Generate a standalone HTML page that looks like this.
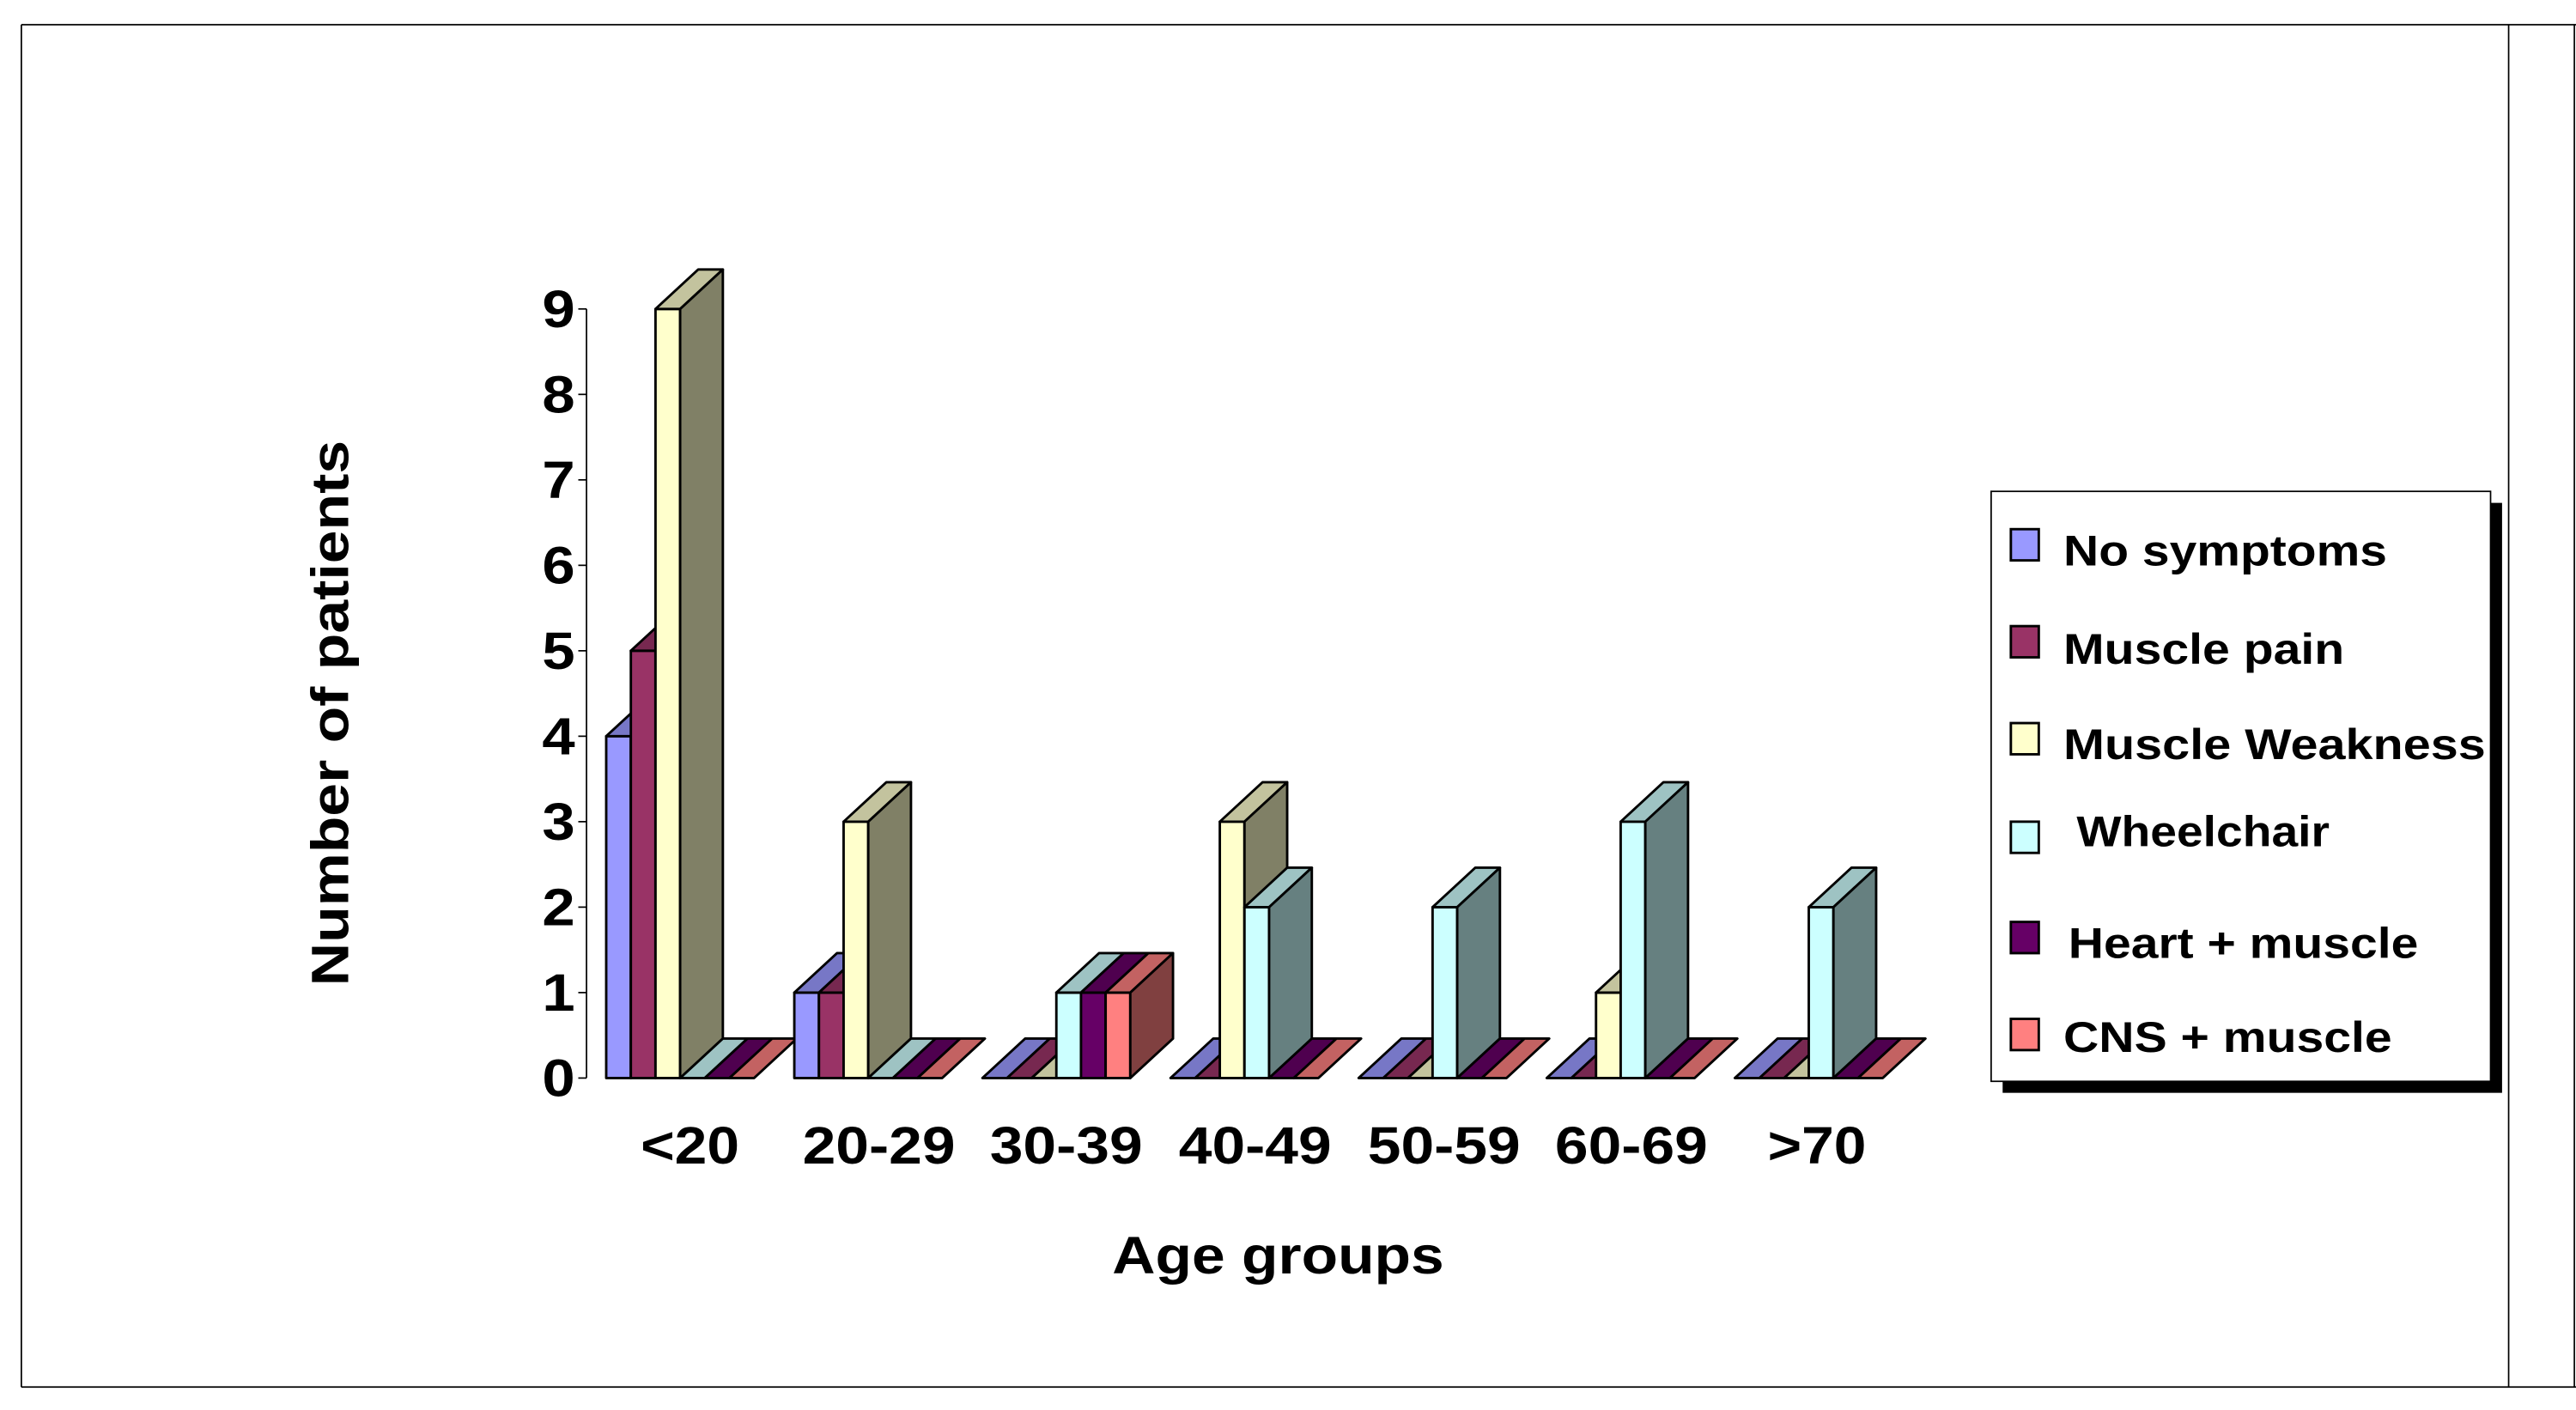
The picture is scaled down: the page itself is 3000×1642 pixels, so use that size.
<!DOCTYPE html>
<html><head><meta charset="utf-8"><style>html,body{margin:0;padding:0;background:#fff}svg{display:block}</style></head>
<body>
<svg xmlns="http://www.w3.org/2000/svg" width="3000" height="1642" viewBox="0 0 1568 858" preserveAspectRatio="none" font-family="Liberation Sans, Arial, sans-serif" font-weight="bold">
<rect width="1568" height="858" fill="#fff"/>
<g stroke="#000" stroke-width="0.9" fill="none">
<line x1="13" y1="15" x2="1568" y2="15"/><line x1="13" y1="15" x2="13" y2="844"/>
<line x1="13" y1="844" x2="1568" y2="844"/><line x1="1527" y1="15" x2="1527" y2="844"/>
<line x1="1567" y1="15" x2="1567" y2="844"/>
</g>
<!-- axis -->
<g stroke="#000" stroke-width="0.9">
<line x1="357" y1="188" x2="357" y2="656"/>
<line x1="352" y1="188" x2="357" y2="188"/><line x1="352" y1="240" x2="357" y2="240"/>
<line x1="352" y1="292" x2="357" y2="292"/><line x1="352" y1="344" x2="357" y2="344"/>
<line x1="352" y1="396" x2="357" y2="396"/><line x1="352" y1="448" x2="357" y2="448"/>
<line x1="352" y1="500" x2="357" y2="500"/><line x1="352" y1="552" x2="357" y2="552"/>
<line x1="352" y1="604" x2="357" y2="604"/><line x1="352" y1="656" x2="357" y2="656"/>
</g>
<g font-size="32" text-anchor="end">
<text x="350" y="199" textLength="20" lengthAdjust="spacingAndGlyphs">9</text>
<text x="350" y="251" textLength="20" lengthAdjust="spacingAndGlyphs">8</text>
<text x="350" y="303" textLength="20" lengthAdjust="spacingAndGlyphs">7</text>
<text x="350" y="355" textLength="20" lengthAdjust="spacingAndGlyphs">6</text>
<text x="350" y="407" textLength="20" lengthAdjust="spacingAndGlyphs">5</text>
<text x="350" y="459" textLength="20" lengthAdjust="spacingAndGlyphs">4</text>
<text x="350" y="511" textLength="20" lengthAdjust="spacingAndGlyphs">3</text>
<text x="350" y="563" textLength="20" lengthAdjust="spacingAndGlyphs">2</text>
<text x="350" y="615" textLength="20" lengthAdjust="spacingAndGlyphs">1</text>
<text x="350" y="667" textLength="20" lengthAdjust="spacingAndGlyphs">0</text>
</g>
<!-- bars -->
<g stroke="#000" stroke-width="1.5" stroke-linejoin="round">
<!-- group 1 -->
<g transform="translate(369,0)"><rect x="0" y="448" width="15" height="208" fill="#9999FF"/><polygon points="0,448 15,448 41,424 26,424" fill="#7777C6"/><polygon points="15,448 41,424 41,632 15,656" fill="#4D4D80"/></g>
<g transform="translate(384,0)"><rect x="0" y="396" width="15" height="260" fill="#993366"/><polygon points="0,396 15,396 41,372 26,372" fill="#772850"/><polygon points="15,396 41,372 41,632 15,656" fill="#4D1A33"/></g>
<g transform="translate(399,0)"><rect x="0" y="188" width="15" height="468" fill="#FFFFCC"/><polygon points="0,188 15,188 41,164 26,164" fill="#C3C39E"/><polygon points="15,188 41,164 41,632 15,656" fill="#808066"/></g>
<polygon transform="translate(414,0)" points="0,656 15,656 41,632 26,632" fill="#9EC3C3"/>
<polygon transform="translate(429,0)" points="0,656 15,656 41,632 26,632" fill="#4F004F"/>
<polygon transform="translate(444,0)" points="0,656 15,656 41,632 26,632" fill="#C36262"/>
<!-- group 2 -->
<g transform="translate(483.5,0)"><rect x="0" y="604" width="15" height="52" fill="#9999FF"/><polygon points="0,604 15,604 41,580 26,580" fill="#7777C6"/><polygon points="15,604 41,580 41,632 15,656" fill="#4D4D80"/></g>
<g transform="translate(498.5,0)"><rect x="0" y="604" width="15" height="52" fill="#993366"/><polygon points="0,604 15,604 41,580 26,580" fill="#772850"/><polygon points="15,604 41,580 41,632 15,656" fill="#4D1A33"/></g>
<g transform="translate(513.5,0)"><rect x="0" y="500" width="15" height="156" fill="#FFFFCC"/><polygon points="0,500 15,500 41,476 26,476" fill="#C3C39E"/><polygon points="15,500 41,476 41,632 15,656" fill="#808066"/></g>
<polygon transform="translate(528.5,0)" points="0,656 15,656 41,632 26,632" fill="#9EC3C3"/>
<polygon transform="translate(543.5,0)" points="0,656 15,656 41,632 26,632" fill="#4F004F"/>
<polygon transform="translate(558.5,0)" points="0,656 15,656 41,632 26,632" fill="#C36262"/>
<!-- group 3 -->
<polygon transform="translate(598,0)" points="0,656 15,656 41,632 26,632" fill="#7777C6"/>
<polygon transform="translate(613,0)" points="0,656 15,656 41,632 26,632" fill="#772850"/>
<polygon transform="translate(628,0)" points="0,656 15,656 41,632 26,632" fill="#C3C39E"/>
<g transform="translate(643,0)"><rect x="0" y="604" width="15" height="52" fill="#CCFFFF"/><polygon points="0,604 15,604 41,580 26,580" fill="#9EC3C3"/><polygon points="15,604 41,580 41,632 15,656" fill="#668080"/></g>
<g transform="translate(658,0)"><rect x="0" y="604" width="15" height="52" fill="#660066"/><polygon points="0,604 15,604 41,580 26,580" fill="#4F004F"/><polygon points="15,604 41,580 41,632 15,656" fill="#330033"/></g>
<g transform="translate(673,0)"><rect x="0" y="604" width="15" height="52" fill="#FF8080"/><polygon points="0,604 15,604 41,580 26,580" fill="#C36262"/><polygon points="15,604 41,580 41,632 15,656" fill="#804040"/></g>
<!-- group 4 -->
<polygon transform="translate(712.5,0)" points="0,656 15,656 41,632 26,632" fill="#7777C6"/>
<polygon transform="translate(727.5,0)" points="0,656 15,656 41,632 26,632" fill="#772850"/>
<g transform="translate(742.5,0)"><rect x="0" y="500" width="15" height="156" fill="#FFFFCC"/><polygon points="0,500 15,500 41,476 26,476" fill="#C3C39E"/><polygon points="15,500 41,476 41,632 15,656" fill="#808066"/></g>
<g transform="translate(757.5,0)"><rect x="0" y="552" width="15" height="104" fill="#CCFFFF"/><polygon points="0,552 15,552 41,528 26,528" fill="#9EC3C3"/><polygon points="15,552 41,528 41,632 15,656" fill="#668080"/></g>
<polygon transform="translate(772.5,0)" points="0,656 15,656 41,632 26,632" fill="#4F004F"/>
<polygon transform="translate(787.5,0)" points="0,656 15,656 41,632 26,632" fill="#C36262"/>
<!-- group 5 -->
<polygon transform="translate(827,0)" points="0,656 15,656 41,632 26,632" fill="#7777C6"/>
<polygon transform="translate(842,0)" points="0,656 15,656 41,632 26,632" fill="#772850"/>
<polygon transform="translate(857,0)" points="0,656 15,656 41,632 26,632" fill="#C3C39E"/>
<g transform="translate(872,0)"><rect x="0" y="552" width="15" height="104" fill="#CCFFFF"/><polygon points="0,552 15,552 41,528 26,528" fill="#9EC3C3"/><polygon points="15,552 41,528 41,632 15,656" fill="#668080"/></g>
<polygon transform="translate(887,0)" points="0,656 15,656 41,632 26,632" fill="#4F004F"/>
<polygon transform="translate(902,0)" points="0,656 15,656 41,632 26,632" fill="#C36262"/>
<!-- group 6 -->
<polygon transform="translate(941.5,0)" points="0,656 15,656 41,632 26,632" fill="#7777C6"/>
<polygon transform="translate(956.5,0)" points="0,656 15,656 41,632 26,632" fill="#772850"/>
<g transform="translate(971.5,0)"><rect x="0" y="604" width="15" height="52" fill="#FFFFCC"/><polygon points="0,604 15,604 41,580 26,580" fill="#C3C39E"/><polygon points="15,604 41,580 41,632 15,656" fill="#808066"/></g>
<g transform="translate(986.5,0)"><rect x="0" y="500" width="15" height="156" fill="#CCFFFF"/><polygon points="0,500 15,500 41,476 26,476" fill="#9EC3C3"/><polygon points="15,500 41,476 41,632 15,656" fill="#668080"/></g>
<polygon transform="translate(1001.5,0)" points="0,656 15,656 41,632 26,632" fill="#4F004F"/>
<polygon transform="translate(1016.5,0)" points="0,656 15,656 41,632 26,632" fill="#C36262"/>
<!-- group 7 -->
<polygon transform="translate(1056,0)" points="0,656 15,656 41,632 26,632" fill="#7777C6"/>
<polygon transform="translate(1071,0)" points="0,656 15,656 41,632 26,632" fill="#772850"/>
<polygon transform="translate(1086,0)" points="0,656 15,656 41,632 26,632" fill="#C3C39E"/>
<g transform="translate(1101,0)"><rect x="0" y="552" width="15" height="104" fill="#CCFFFF"/><polygon points="0,552 15,552 41,528 26,528" fill="#9EC3C3"/><polygon points="15,552 41,528 41,632 15,656" fill="#668080"/></g>
<polygon transform="translate(1116,0)" points="0,656 15,656 41,632 26,632" fill="#4F004F"/>
<polygon transform="translate(1131,0)" points="0,656 15,656 41,632 26,632" fill="#C36262"/>
</g>
<!-- x labels -->
<g font-size="32" text-anchor="middle">
<text x="420" y="708" textLength="60" lengthAdjust="spacingAndGlyphs">&lt;20</text>
<text x="535" y="708" textLength="93" lengthAdjust="spacingAndGlyphs">20-29</text>
<text x="649" y="708" textLength="93" lengthAdjust="spacingAndGlyphs">30-39</text>
<text x="764" y="708" textLength="93" lengthAdjust="spacingAndGlyphs">40-49</text>
<text x="879" y="708" textLength="93" lengthAdjust="spacingAndGlyphs">50-59</text>
<text x="993" y="708" textLength="93" lengthAdjust="spacingAndGlyphs">60-69</text>
<text x="1106" y="708" textLength="60" lengthAdjust="spacingAndGlyphs">&gt;70</text>
<text x="778" y="775" textLength="202" lengthAdjust="spacingAndGlyphs">Age groups</text>
<text transform="translate(212,434) rotate(-90)" x="0" y="0" textLength="332" lengthAdjust="spacingAndGlyphs">Number of patients</text>
</g>
<!-- legend -->
<rect x="1219" y="306" width="304" height="359" fill="#000"/>
<rect x="1212" y="299" width="304" height="359" fill="#fff" stroke="#000" stroke-width="0.9"/>
<g stroke="#000" stroke-width="1.5">
<rect x="1224" y="322" width="17" height="19" fill="#9999FF"/>
<rect x="1224" y="381" width="17" height="19" fill="#993366"/>
<rect x="1224" y="440" width="17" height="19" fill="#FFFFCC"/>
<rect x="1224" y="500" width="17" height="19" fill="#CCFFFF"/>
<rect x="1224" y="561" width="17" height="19" fill="#660066"/>
<rect x="1224" y="620" width="17" height="19" fill="#FF8080"/>
</g>
<g font-size="26">
<text x="1256" y="344" textLength="197" lengthAdjust="spacingAndGlyphs">No symptoms</text>
<text x="1256" y="404" textLength="171" lengthAdjust="spacingAndGlyphs">Muscle pain</text>
<text x="1256" y="462" textLength="257" lengthAdjust="spacingAndGlyphs">Muscle Weakness</text>
<text x="1264" y="515" textLength="154" lengthAdjust="spacingAndGlyphs">Wheelchair</text>
<text x="1259" y="583" textLength="213" lengthAdjust="spacingAndGlyphs">Heart + muscle</text>
<text x="1256" y="640" textLength="200" lengthAdjust="spacingAndGlyphs">CNS + muscle</text>
</g>
</svg>
</body></html>
